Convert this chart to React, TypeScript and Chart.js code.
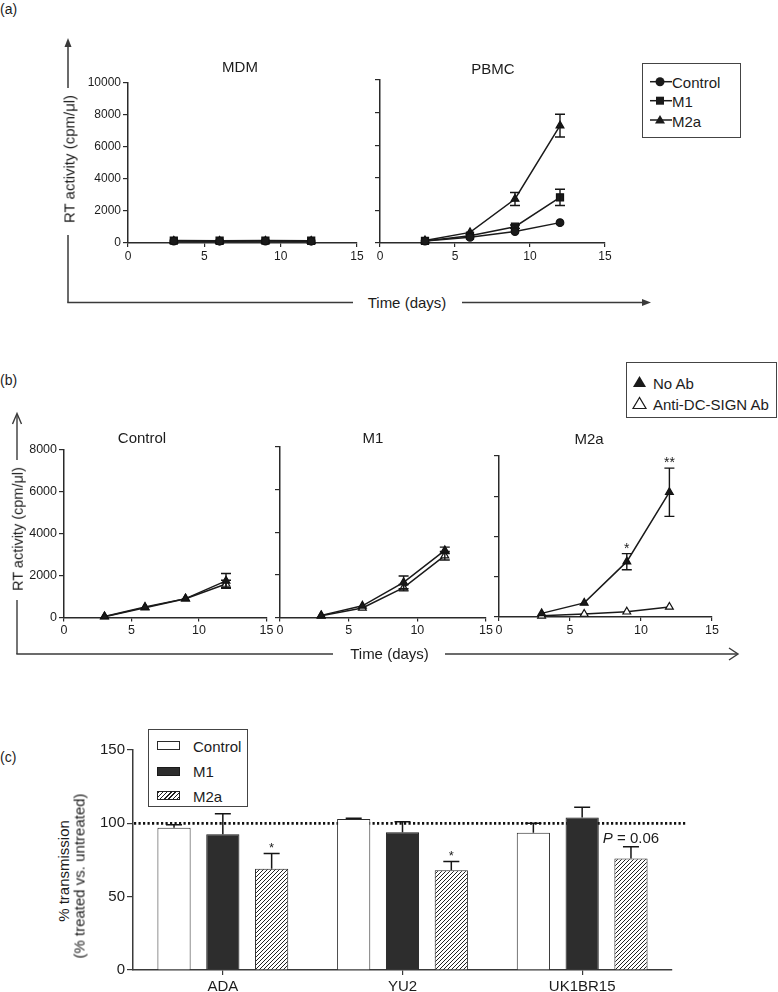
import React, { useEffect, useRef } from 'react';
import { Chart, registerables } from 'chart.js';

Chart.register(...registerables);

const FONT = '"Liberation Sans", Arial, Helvetica, sans-serif';
const INK = '#1c1c1c';

// ---------- data ----------
const DAYS = [3, 6, 9, 12];

// panel (a)
const MDM_CONTROL = [120, 110, 120, 110];
const MDM_M1 = [150, 140, 150, 140];
const MDM_M2A = [130, 120, 130, 120];
const MDM_ERR = [0, 0, 0, 0];

const PBMC_CONTROL = [120, 350, 700, 1250];
const PBMC_CONTROL_ERR = [0, 0, 0, 0];
const PBMC_M1 = [130, 450, 1000, 2800];
const PBMC_M1_ERR = [0, 0, 100, 500];
const PBMC_M2A = [150, 650, 2700, 7200];
const PBMC_M2A_ERR = [0, 0, 400, 700];

const A_Y_MAX = 10000;
const A_Y_STEP = 2000;

// panel (b)
const B_CTRL_NOAB = [50, 500, 900, 1750];
const B_CTRL_NOAB_ERR = [0, 0, 0, 350];
const B_CTRL_ANTI = [40, 470, 900, 1600];
const B_CTRL_ANTI_ERR = [0, 0, 0, 180];

const B_M1_NOAB = [100, 550, 1650, 3150];
const B_M1_NOAB_ERR = [0, 0, 300, 150];
const B_M1_ANTI = [80, 450, 1400, 2900];
const B_M1_ANTI_ERR = [0, 0, 150, 200];

const B_M2A_NOAB = [180, 700, 2750, 6200];
const B_M2A_NOAB_ERR = [0, 0, 400, 1200];
const B_M2A_ANTI = [60, 150, 260, 500];
const B_M2A_ANTI_ERR = [0, 0, 0, 0];
const B_M2A_MARKS = ['', '', '*', '**'];

const B_Y_MAX = 8000;
const B_Y_STEP = 2000;

// panel (c)
const C_CATEGORIES = ['ADA', 'YU2', 'UK1BR15'];
const C_CONTROL = [97, 103, 93.5];
const C_CONTROL_ERR = [2, 0.5, 6.5];
const C_M1 = [92.5, 94, 104];
const C_M1_ERR = [14, 7, 7];
const C_M2A = [69, 68, 76];
const C_M2A_ERR = [10.5, 6, 8];
const C_M2A_MARKS = ['*', '*', 'P = 0.06'];
const C_REFERENCE = 100;
const C_Y_MAX = 150;
const C_Y_STEP = 50;

// ---------- layout (page pixel coordinates of plot areas) ----------
type Area = { x0: number; y0: number; x1: number; y1: number };
const AREAS: Record<string, Area> = {
  mdm: { x0: 128, y0: 82.5, x1: 357, y1: 243 },
  pbmc: { x0: 380, y0: 80, x1: 605, y1: 243 },
  bCtrl: { x0: 64, y0: 450, x1: 266.5, y1: 617.5 },
  bM1: { x0: 280, y0: 447, x1: 486, y1: 617.5 },
  bM2a: { x0: 499, y0: 456, x1: 712, y1: 617 },
  c: { x0: 133, y0: 750, x1: 672, y1: 970 },
};
const M_L = 60, M_T = 14, M_R = 18, M_B = 30;
const YW = 40, XH = 24;

function canvasBox(a: Area) {
  const left = Math.floor(a.x0 - M_L);
  const top = Math.floor(a.y0 - M_T);
  const right = Math.ceil(a.x1 + M_R);
  const bottom = Math.ceil(a.y1 + M_B);
  return {
    left, top, width: right - left, height: bottom - top,
    padding: { left: a.x0 - left - YW, top: a.y0 - top, right: right - a.x1, bottom: bottom - a.y1 - XH },
  };
}

// ---------- plugins ----------
const errorBarPlugin = {
  id: 'errbars',
  afterDatasetsDraw(chart: any) {
    const ctx = chart.ctx;
    const ys = chart.scales.y;
    chart.data.datasets.forEach((ds: any, i: number) => {
      if (!ds.errors) return;
      const meta = chart.getDatasetMeta(i);
      meta.data.forEach((el: any, j: number) => {
        const e = ds.errors[j];
        if (!e) return;
        const raw = ds.data[j];
        const v = typeof raw === 'number' ? raw : raw.y;
        const x = el.x;
        const top = ys.getPixelForValue(v + e);
        const bot = ds.errUpOnly ? ys.getPixelForValue(v) : ys.getPixelForValue(v - e);
        const cap = ds.capHalf ?? 5;
        ctx.save();
        ctx.strokeStyle = '#151515';
        ctx.lineWidth = ds.errWidth ?? 1.4;
        ctx.beginPath();
        ctx.moveTo(x, top); ctx.lineTo(x, bot);
        ctx.moveTo(x - cap, top); ctx.lineTo(x + cap, top);
        if (!ds.errUpOnly) { ctx.moveTo(x - cap, bot); ctx.lineTo(x + cap, bot); }
        ctx.stroke();
        ctx.restore();
      });
    });
  },
};

function marksPlugin(dsIndex: number, marks: string[], starSize: number) {
  return {
    id: 'marks',
    afterDatasetsDraw(chart: any) {
      const ctx = chart.ctx;
      const ys = chart.scales.y;
      const ds: any = chart.data.datasets[dsIndex];
      const meta = chart.getDatasetMeta(dsIndex);
      marks.forEach((m, j) => {
        if (!m) return;
        const el: any = meta.data[j];
        const raw = ds.data[j];
        const v = typeof raw === 'number' ? raw : raw.y;
        const e = ds.errors ? ds.errors[j] : 0;
        const top = ys.getPixelForValue(v + e);
        ctx.save();
        ctx.fillStyle = INK;
        ctx.textBaseline = 'alphabetic';
        if (m.startsWith('P')) {
          const rest = m.slice(1);
          ctx.font = `italic 15px ${FONT}`;
          const wP = ctx.measureText('P').width;
          ctx.font = `15px ${FONT}`;
          const wR = ctx.measureText(rest).width;
          const sx = el.x - (wP + wR) / 2;
          const by = top - 3.5;
          ctx.textAlign = 'left';
          ctx.font = `italic 15px ${FONT}`;
          ctx.fillText('P', sx, by);
          ctx.font = `15px ${FONT}`;
          ctx.fillText(rest, sx + wP, by);
        } else {
          ctx.font = `${starSize}px ${FONT}`;
          ctx.textAlign = 'center';
          ctx.fillText(m, el.x, top - 1);
        }
        ctx.restore();
      });
    },
  };
}

function refLinePlugin(value: number) {
  return {
    id: 'refline',
    beforeDatasetsDraw(chart: any) {
      const ctx = chart.ctx;
      const y = chart.scales.y.getPixelForValue(value);
      const a = chart.chartArea;
      ctx.save();
      ctx.strokeStyle = '#111';
      ctx.lineWidth = 2.6;
      ctx.setLineDash([2.2, 2.3]);
      ctx.beginPath();
      ctx.moveTo(a.left + 1, y);
      ctx.lineTo(a.right + 15, y);
      ctx.stroke();
      ctx.restore();
    },
  };
}

function makeHatch(ctx: CanvasRenderingContext2D) {
  const c = document.createElement('canvas');
  c.width = 4; c.height = 4;
  const g = c.getContext('2d')!;
  g.fillStyle = '#fff';
  g.fillRect(0, 0, 4, 4);
  g.strokeStyle = '#222';
  g.lineWidth = 1;
  g.beginPath();
  g.moveTo(0, 4); g.lineTo(4, 0);
  g.moveTo(-1, 1); g.lineTo(1, -1);
  g.moveTo(3, 5); g.lineTo(5, 3);
  g.stroke();
  return ctx.createPattern(c, 'repeat');
}

// ---------- chart builders ----------
type Series = {
  label: string; values: number[]; errors: number[];
  style: string; radius: number; fill: string;
};

function buildLine(canvas: HTMLCanvasElement, area: Area, series: Series[], yMax: number, yStep: number,
  showYLabels: boolean, tickSize: number, extra: any[] = []) {
  const box = canvasBox(area);
  const axisColor = '#2a2a2a';
  return new Chart(canvas, {
    type: 'line',
    data: {
      datasets: series.map((s) => ({
        label: s.label,
        data: DAYS.map((d, i) => ({ x: d, y: s.values[i] })),
        errors: s.errors,
        capHalf: 5,
        borderColor: '#1a1a1a',
        borderWidth: 1.5,
        pointStyle: s.style,
        pointRadius: s.radius,
        pointBackgroundColor: s.fill,
        pointBorderColor: '#111',
        pointBorderWidth: 1.2,
        tension: 0,
        clip: false,
      })) as any,
    },
    options: {
      responsive: false,
      animation: false,
      events: [],
      layout: { padding: box.padding },
      plugins: { legend: { display: false }, tooltip: { enabled: false }, title: { display: false } },
      scales: {
        x: {
          type: 'linear', min: 0, max: 15,
          ticks: { stepSize: 5, font: { family: FONT, size: tickSize }, color: INK, padding: 2, maxRotation: 0, callback: (v: any) => String(v) },
          grid: { display: true, drawOnChartArea: false, drawTicks: true, tickLength: 4, color: axisColor, lineWidth: 1.2 },
          border: { display: true, color: axisColor, width: 1.5 },
          afterFit: (s: any) => { s.height = XH; },
        },
        y: {
          type: 'linear', min: 0, max: yMax,
          ticks: {
            stepSize: yStep, font: { family: FONT, size: tickSize }, color: INK, padding: 2,
            callback: (v: any) => (showYLabels ? String(v) : ''),
          },
          grid: { display: true, drawOnChartArea: false, drawTicks: true, tickLength: 5, color: axisColor, lineWidth: 1.2 },
          border: { display: true, color: axisColor, width: 1.5 },
          afterFit: (s: any) => { s.width = YW; },
        },
      } as any,
    },
    plugins: [errorBarPlugin, ...extra],
  });
}

function buildBars(canvas: HTMLCanvasElement, area: Area) {
  const box = canvasBox(area);
  const ctx = canvas.getContext('2d')!;
  const hatch = makeHatch(ctx);
  const axisColor = '#3a3a3a';
  const common = { barPercentage: 0.68, categoryPercentage: 0.815, borderWidth: 1, errUpOnly: true, capHalf: 8, errWidth: 1.5 };
  return new Chart(canvas, {
    type: 'bar',
    data: {
      labels: C_CATEGORIES,
      datasets: [
        { label: 'Control', data: C_CONTROL, errors: C_CONTROL_ERR, backgroundColor: '#ffffff', borderColor: '#2a2a2a', ...common },
        { label: 'M1', data: C_M1, errors: C_M1_ERR, backgroundColor: '#2d2d2d', borderColor: '#1a1a1a', ...common },
        { label: 'M2a', data: C_M2A, errors: C_M2A_ERR, backgroundColor: hatch as any, borderColor: '#222', ...common },
      ] as any,
    },
    options: {
      responsive: false,
      animation: false,
      events: [],
      layout: { padding: box.padding },
      plugins: { legend: { display: false }, tooltip: { enabled: false } },
      scales: {
        x: {
          type: 'category', offset: true,
          ticks: { font: { family: FONT, size: 15 }, color: INK, padding: 3, maxRotation: 0 },
          grid: { display: true, offset: false, drawOnChartArea: false, drawTicks: true, tickLength: 5, color: axisColor, lineWidth: 1.2 },
          border: { display: true, color: axisColor, width: 1.5 },
          afterFit: (s: any) => { s.height = XH; },
        },
        y: {
          type: 'linear', min: 0, max: C_Y_MAX,
          ticks: { stepSize: C_Y_STEP, font: { family: FONT, size: 15 }, color: INK, padding: 2 },
          grid: { display: true, drawOnChartArea: false, drawTicks: true, tickLength: 6, color: axisColor, lineWidth: 1.2 },
          border: { display: true, color: axisColor, width: 1.5 },
          afterFit: (s: any) => { s.width = YW; },
        },
      } as any,
    },
    plugins: [refLinePlugin(C_REFERENCE), errorBarPlugin, marksPlugin(2, C_M2A_MARKS, 13)],
  });
}

// ---------- small HTML helpers ----------
const T = (props: { x: number; y: number; size?: number; rot?: boolean; children: React.ReactNode; align?: 'center' | 'left' }) => {
  const { x, y, size = 15, rot, children, align = 'center' } = props;
  const tx = align === 'center' ? '-50%' : '0';
  return (
    <div
      style={{
        position: 'absolute', left: x, top: y, fontSize: size, lineHeight: 1, whiteSpace: 'nowrap', color: INK,
        transform: `translate(${tx}, -50%)${rot ? ' rotate(-90deg)' : ''}`,
        transformOrigin: align === 'center' ? '50% 50%' : '0 50%',
      }}
    >
      {children}
    </div>
  );
};

function CanvasAt(props: { area: Area; cref: React.RefObject<HTMLCanvasElement | null> }) {
  const b = canvasBox(props.area);
  return (
    <canvas
      ref={props.cref as any}
      width={b.width}
      height={b.height}
      style={{ position: 'absolute', left: b.left, top: b.top, width: b.width, height: b.height }}
    />
  );
}

export default function App() {
  const rMdm = useRef<HTMLCanvasElement | null>(null);
  const rPbmc = useRef<HTMLCanvasElement | null>(null);
  const rB1 = useRef<HTMLCanvasElement | null>(null);
  const rB2 = useRef<HTMLCanvasElement | null>(null);
  const rB3 = useRef<HTMLCanvasElement | null>(null);
  const rC = useRef<HTMLCanvasElement | null>(null);

  useEffect(() => {
    const A = (label: string, values: number[], errors: number[], style: string, radius: number): Series =>
      ({ label, values, errors, style, radius, fill: '#1a1a1a' });
    const charts: Chart[] = [];
    charts.push(buildLine(rMdm.current!, AREAS.mdm, [
      A('Control', MDM_CONTROL, MDM_ERR, 'circle', 3.8),
      A('M1', MDM_M1, MDM_ERR, 'rect', 5),
      A('M2a', MDM_M2A, MDM_ERR, 'triangle', 4.5),
    ], A_Y_MAX, A_Y_STEP, true, 12));
    charts.push(buildLine(rPbmc.current!, AREAS.pbmc, [
      A('Control', PBMC_CONTROL, PBMC_CONTROL_ERR, 'circle', 3.8),
      A('M1', PBMC_M1, PBMC_M1_ERR, 'rect', 5),
      A('M2a', PBMC_M2A, PBMC_M2A_ERR, 'triangle', 4.5),
    ], A_Y_MAX, A_Y_STEP, false, 12));

    const noAb = (v: number[], e: number[]): Series => ({ label: 'No Ab', values: v, errors: e, style: 'triangle', radius: 4.5, fill: '#1a1a1a' });
    const anti = (v: number[], e: number[]): Series => ({ label: 'Anti-DC-SIGN Ab', values: v, errors: e, style: 'triangle', radius: 4.5, fill: '#ffffff' });
    charts.push(buildLine(rB1.current!, AREAS.bCtrl, [noAb(B_CTRL_NOAB, B_CTRL_NOAB_ERR), anti(B_CTRL_ANTI, B_CTRL_ANTI_ERR)], B_Y_MAX, B_Y_STEP, true, 12.5));
    charts.push(buildLine(rB2.current!, AREAS.bM1, [noAb(B_M1_NOAB, B_M1_NOAB_ERR), anti(B_M1_ANTI, B_M1_ANTI_ERR)], B_Y_MAX, B_Y_STEP, false, 12.5));
    charts.push(buildLine(rB3.current!, AREAS.bM2a, [noAb(B_M2A_NOAB, B_M2A_NOAB_ERR), anti(B_M2A_ANTI, B_M2A_ANTI_ERR)], B_Y_MAX, B_Y_STEP, false, 12.5,
      [marksPlugin(0, B_M2A_MARKS, 14)]));
    charts.push(buildBars(rC.current!, AREAS.c));
    return () => { charts.forEach((c) => c.destroy()); };
  }, []);

  const stroke = '#3a3a3a';
  return (
    <div style={{ position: 'absolute', left: 0, top: 0, width: 778, height: 992, overflow: 'hidden', background: '#fff', fontFamily: FONT, color: INK }}>
      <svg width={778} height={992} style={{ position: 'absolute', left: 0, top: 0 }}>
        {/* panel (a) frame arrows */}
        <g stroke={stroke} strokeWidth={1.5} fill="none">
          <line x1={68} y1={46} x2={68} y2={88} />
          <line x1={68} y1={235} x2={68} y2={302.5} />
          <line x1={67.25} y1={302.5} x2={353} y2={302.5} />
          <line x1={462} y1={302.5} x2={644} y2={302.5} />
        </g>
        <polygon points="68,38 64.5,47 71.5,47" fill={stroke} />
        <polygon points="651,302.5 642,299 642,306" fill={stroke} />
        {/* panel (b) frame arrows */}
        <g stroke={stroke} strokeWidth={1.4} fill="none">
          <line x1={17} y1={414} x2={17} y2={460} />
          <line x1={17} y1={600} x2={17} y2={654} />
          <line x1={16.3} y1={654} x2={333} y2={654} />
          <line x1={445} y1={654} x2={737} y2={654} />
          <polyline points="12.5,424 17,413.5 21.5,424" />
          <polyline points="729,648 738,654 729,660" />
        </g>
        {/* legend (a) icons */}
        <g stroke="#1a1a1a" strokeWidth={1.5}>
          <line x1={650} y1={81.7} x2={672} y2={81.7} />
          <line x1={650} y1={100.7} x2={672} y2={100.7} />
          <line x1={650} y1={120} x2={672} y2={120} />
        </g>
        <circle cx={660} cy={81.7} r={4.5} fill="#1a1a1a" />
        <rect x={656} y={96.7} width={8} height={8} fill="#1a1a1a" />
        <polygon points="660,115 655,123.5 665,123.5" fill="#1a1a1a" />
        {/* legend (b) icons */}
        <polygon points="639.5,376 633,387 646,387" fill="#1a1a1a" />
        <polygon points="639.5,397.5 633,408.5 646,408.5" fill="#fff" stroke="#1a1a1a" strokeWidth={1.2} />
      </svg>

      <CanvasAt area={AREAS.mdm} cref={rMdm} />
      <CanvasAt area={AREAS.pbmc} cref={rPbmc} />
      <CanvasAt area={AREAS.bCtrl} cref={rB1} />
      <CanvasAt area={AREAS.bM1} cref={rB2} />
      <CanvasAt area={AREAS.bM2a} cref={rB3} />
      <CanvasAt area={AREAS.c} cref={rC} />

      {/* panel labels */}
      <T x={0} y={9} size={14} align="left">(a)</T>
      <T x={0} y={380} size={14} align="left">(b)</T>
      <T x={0} y={757} size={14} align="left">(c)</T>

      {/* panel (a) texts */}
      <T x={240} y={66}>MDM</T>
      <T x={493} y={68}>PBMC</T>
      <T x={68.5} y={159} rot>RT activity (cpm/μl)</T>
      <T x={407} y={301.5}>Time (days)</T>

      {/* legend (a) */}
      <div style={{ position: 'absolute', left: 642, top: 63, width: 99, height: 75, border: '1.5px solid #444', boxSizing: 'border-box' }} />
      <T x={672} y={82} align="left">Control</T>
      <T x={672} y={101} align="left">M1</T>
      <T x={672} y={120.5} align="left">M2a</T>

      {/* panel (b) texts */}
      <T x={142} y={437}>Control</T>
      <T x={373} y={437}>M1</T>
      <T x={589} y={438}>M2a</T>
      <T x={17.5} y={529} size={14.5} rot>RT activity (cpm/μl)</T>
      <T x={389.5} y={653}>Time (days)</T>

      {/* legend (b) */}
      <div style={{ position: 'absolute', left: 626, top: 362, width: 151, height: 56, border: '1.5px solid #444', boxSizing: 'border-box' }} />
      <T x={653} y={382.5} align="left">No Ab</T>
      <T x={653} y={403.5} align="left">Anti-DC-SIGN Ab</T>

      {/* panel (c) texts */}
      <T x={63} y={871} rot>% transmission</T>
      <T x={79} y={876} rot>(% treated vs. untreated)</T>

      {/* legend (c) */}
      <div style={{ position: 'absolute', left: 148, top: 729, width: 100, height: 78, border: '1.2px solid #444', boxSizing: 'border-box', background: '#fff' }} />
      <div style={{ position: 'absolute', left: 157, top: 741, width: 23, height: 9, border: '1px solid #2a2a2a', boxSizing: 'border-box', background: '#fff' }} />
      <div style={{ position: 'absolute', left: 157, top: 766.5, width: 23, height: 9, border: '1px solid #1a1a1a', boxSizing: 'border-box', background: '#2d2d2d' }} />
      <div style={{ position: 'absolute', left: 157, top: 790.5, width: 23, height: 9, border: '1px solid #222', boxSizing: 'border-box', background: 'repeating-linear-gradient(135deg, #222 0 1px, #fff 1px 3px)' }} />
      <T x={193} y={746} align="left">Control</T>
      <T x={193} y={771} align="left">M1</T>
      <T x={193} y={795.5} align="left">M2a</T>
    </div>
  );
}
